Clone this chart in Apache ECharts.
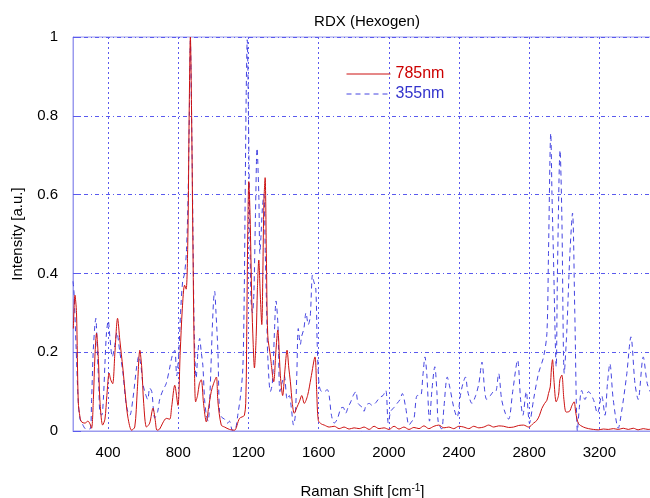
<!DOCTYPE html>
<html>
<head>
<meta charset="utf-8">
<script src="https://cdn.jsdelivr.net/npm/echarts@6/dist/echarts.min.js"></script>
<style>
  html, body { margin: 0; padding: 0; background: #fff; }
  #chart { width: 650px; height: 498px; }
</style>
</head>
<body>
<div id="chart"></div>
<script>
// Raman spectrum of RDX at two excitation wavelengths
const shift785 = [202,211,220,230,240,249,268,285,297,306,316,325,334,345,353,369,382,393,406,415,426,439,454,467,484,501,514,534,552,566,581,592,603,619,637,656,668,679,694,711,732,751,762,780,798,811,823,836,845,855,862,869,876,884,891,899,910,920,931,944,960,973,988,1001,1017,1026,1045,1064,1092,1120,1149,1177,1186,1190,1196,1202,1209,1219,1227,1234,1244,1251,1259,1267,1276,1282,1288,1295,1302,1310,1325,1344,1356,1367,1382,1395,1407,1420,1430,1439,1450,1461,1476,1490,1504,1518,1537,1556,1579,1589,1598,1615,1632,1660,1689,1717,1745,1774,1802,1831,1859,1888,1916,1944,1973,2001,2030,2058,2086,2115,2143,2172,2200,2228,2257,2285,2314,2342,2370,2399,2427,2456,2484,2513,2541,2569,2598,2626,2655,2683,2711,2740,2768,2797,2825,2844,2859,2872,2888,2901,2910,2920,2927,2933,2941,2954,2967,2975,2986,2998,3011,3030,3044,3056,3066,3081,3109,3138,3166,3194,3223,3251,3280,3308,3336,3365,3393,3421,3450,3478,3500];
const int785 = [0.26,0.345,0.30,0.074,0.035,0.023,0.02,0.025,0.018,0.007,0.08,0.19,0.248,0.18,0.08,0.015,0.03,0.09,0.147,0.13,0.12,0.2,0.286,0.23,0.16,0.08,0.032,0.002,0.01,0.1,0.205,0.16,0.07,0.01,0.02,0.058,0.03,0.002,0.005,0.02,0.032,0.03,0.06,0.116,0.065,0.2,0.31,0.37,0.36,0.5,0.8,1.0,0.8,0.45,0.2,0.074,0.09,0.12,0.13,0.07,0.023,0.06,0.1,0.12,0.137,0.074,0.015,0.01,0.004,0.002,0.032,0.04,0.1,0.24,0.5,0.633,0.55,0.33,0.22,0.16,0.24,0.36,0.434,0.35,0.27,0.4,0.58,0.643,0.45,0.243,0.19,0.125,0.2,0.256,0.14,0.09,0.15,0.205,0.16,0.125,0.07,0.045,0.06,0.074,0.09,0.07,0.09,0.134,0.188,0.1,0.027,0.018,0.015,0.01,0.012,0.006,0.01,0.005,0.008,0.006,0.01,0.004,0.012,0.006,0.008,0.004,0.012,0.005,0.01,0.004,0.009,0.006,0.013,0.006,0.012,0.015,0.008,0.01,0.006,0.012,0.01,0.006,0.012,0.008,0.01,0.015,0.01,0.013,0.012,0.009,0.01,0.014,0.015,0.01,0.02,0.027,0.04,0.057,0.07,0.078,0.095,0.112,0.16,0.181,0.13,0.074,0.09,0.13,0.142,0.08,0.048,0.05,0.065,0.074,0.045,0.019,0.01,0.006,0.004,0.003,0.005,0.004,0.006,0.004,0.007,0.004,0.007,0.003,0.006,0.004,0.005];

const shift355 = [200,206,217,230,240,251,274,297,306,315,325,330,339,348,353,364,373,382,391,401,410,424,439,450,467,484,501,512,524,541,562,575,586,598,609,626,637,649,666,683,694,713,731,751,765,780,791,802,813,825,836,847,856,863,869,876,884,891,902,912,922,931,940,950,960,970,981,993,1001,1007,1015,1026,1035,1047,1064,1081,1092,1109,1126,1139,1155,1168,1176,1181,1187,1193,1200,1208,1215,1223,1231,1240,1249,1259,1265,1272,1280,1288,1296,1305,1310,1325,1336,1348,1357,1368,1379,1390,1404,1421,1433,1444,1457,1467,1476,1484,1496,1503,1516,1528,1541,1552,1565,1572,1584,1592,1603,1618,1632,1649,1660,1673,1689,1706,1727,1740,1754,1768,1783,1797,1812,1825,1848,1859,1870,1888,1905,1926,1939,1955,1967,1983,1997,2011,2030,2047,2064,2077,2096,2115,2132,2143,2162,2181,2194,2206,2217,2232,2245,2262,2274,2281,2301,2314,2333,2348,2370,2389,2408,2422,2437,2450,2474,2495,2513,2531,2547,2558,2579,2598,2609,2626,2643,2664,2683,2706,2734,2751,2764,2783,2802,2825,2853,2882,2901,2910,2923,2930,2938,2954,2961,2976,2986,3000,3014,3032,3047,3060,3075,3086,3099,3118,3138,3166,3189,3213,3232,3246,3260,3279,3308,3327,3355,3380,3403,3421,3450,3473,3490,3500];
const int355 = [0.38,0.35,0.22,0.074,0.03,0.02,0.005,0.005,0.08,0.2,0.27,0.286,0.2,0.1,0.048,0.04,0.08,0.17,0.25,0.28,0.24,0.188,0.22,0.25,0.2,0.15,0.074,0.05,0.04,0.08,0.16,0.19,0.17,0.12,0.1,0.08,0.109,0.1,0.033,0.05,0.08,0.104,0.12,0.16,0.19,0.205,0.14,0.19,0.3,0.38,0.4,0.46,0.6,0.8,0.99,0.8,0.5,0.25,0.134,0.2,0.235,0.2,0.167,0.08,0.04,0.025,0.1,0.25,0.33,0.355,0.3,0.2,0.05,0.035,0.03,0.02,0.025,0.002,0.005,0.04,0.09,0.16,0.35,0.58,0.85,0.993,0.8,0.5,0.33,0.3,0.35,0.55,0.718,0.6,0.45,0.5,0.57,0.6,0.45,0.28,0.19,0.1,0.12,0.25,0.33,0.27,0.1,0.12,0.14,0.08,0.09,0.06,0.015,0.04,0.15,0.26,0.22,0.24,0.26,0.3,0.27,0.29,0.396,0.38,0.36,0.22,0.116,0.1,0.1,0.105,0.09,0.04,0.02,0.03,0.058,0.06,0.045,0.06,0.074,0.09,0.1,0.07,0.06,0.05,0.065,0.07,0.065,0.072,0.08,0.087,0.09,0.103,0.02,0.05,0.06,0.07,0.08,0.095,0.06,0.015,0.025,0.03,0.09,0.09,0.14,0.188,0.14,0.025,0.1,0.163,0.1,0.025,0.005,0.06,0.137,0.11,0.06,0.035,0.09,0.12,0.137,0.1,0.07,0.09,0.12,0.175,0.1,0.08,0.09,0.1,0.1,0.146,0.08,0.045,0.03,0.1,0.18,0.08,0.04,0.1,0.02,0.08,0.146,0.188,0.248,0.45,0.756,0.6,0.45,0.163,0.4,0.713,0.55,0.146,0.25,0.45,0.553,0.3,0.0,0.06,0.103,0.08,0.1,0.08,0.045,0.09,0.04,0.12,0.171,0.08,0.007,0.05,0.14,0.239,0.12,0.08,0.188,0.12,0.1,0.09];

const xTicks = [400, 800, 1200, 1600, 2000, 2400, 2800, 3200];

const frameColor = '#9a9aee';
const gridColor = '#5a5aee';
const font = 'Liberation Sans, Arial, sans-serif';

function pairs(xs, ys) {
    return xs.map((x, i) => [x, ys[i]]);
}

const chart = echarts.init(document.getElementById('chart'));

chart.setOption({
    animation: false,
    backgroundColor: '#fff',
    title: {
        text: 'RDX (Hexogen)',
        left: 362,
        textAlign: 'center',
        top: 9,
        textStyle: { fontFamily: font, fontSize: 15, fontWeight: 'normal', color: '#000' }
    },
    legend: {
        orient: 'vertical',
        left: 341,
        top: 61,
        itemWidth: 44,
        itemHeight: 10,
        itemGap: 4,
        itemStyle: { opacity: 0 },
        lineStyle: { width: 1 },
        textStyle: { fontFamily: font, fontSize: 16 },
        data: [
            { name: '785nm', textStyle: { color: '#cc0000' } },
            { name: '355nm', textStyle: { color: '#3333cc' } }
        ]
    },
    grid: {
        left: 73,
        right: -2,
        top: 37,
        bottom: 67,
        outerBoundsMode: 'none',
        show: true,
        borderColor: frameColor,
        borderWidth: 1
    },
    xAxis: {
        type: 'value',
        min: 200,
        max: 3500,
        name: 'Raman Shift [cm{sup|-1}]',
        nameLocation: 'middle',
        nameGap: 52,
        nameTextStyle: {
            fontFamily: font, fontSize: 15, color: '#000',
            rich: { sup: { fontFamily: font, fontSize: 10, color: '#000', verticalAlign: 'top', padding: [0, 0, 8, 0] } }
        },
        axisLine: { lineStyle: { color: frameColor, width: 1 } },
        axisTick: { show: false, customValues: xTicks },
        axisLabel: {
            customValues: xTicks,
            margin: 14,
            formatter: v => String(v),
            fontFamily: font, fontSize: 15, color: '#000'
        },
        splitLine: { show: true, lineStyle: { color: gridColor, width: 1, type: [2, 3] } }
    },
    yAxis: {
        type: 'value',
        min: 0,
        max: 1,
        interval: 0.2,
        name: 'Intensity [a.u.]',
        nameLocation: 'middle',
        nameGap: 48,
        nameTextStyle: { fontFamily: font, fontSize: 15, color: '#000' },
        axisLine: { show: true, lineStyle: { color: frameColor, width: 1 } },
        axisTick: { show: true, inside: true, length: 8, lineStyle: { color: gridColor } },
        axisLabel: { margin: 15, fontFamily: font, fontSize: 15, color: '#000' },
        splitLine: { show: true, lineStyle: { color: gridColor, width: 1, type: [4, 3, 1, 3] } }
    },
    series: [
        {
            name: '785nm',
            type: 'line',
            data: pairs(shift785, int785),
            symbol: 'none',
            smooth: 0.3,
            lineStyle: { color: '#cc1111', width: 1 },
            itemStyle: { color: '#cc1111' },
            z: 3
        },
        {
            name: '355nm',
            type: 'line',
            data: pairs(shift355, int355),
            symbol: 'none',
            smooth: 0.3,
            lineStyle: { color: '#4444e0', width: 1, type: [5, 4] },
            itemStyle: { color: '#4444e0' },
            z: 2
        }
    ]
});
</script>
</body>
</html>
